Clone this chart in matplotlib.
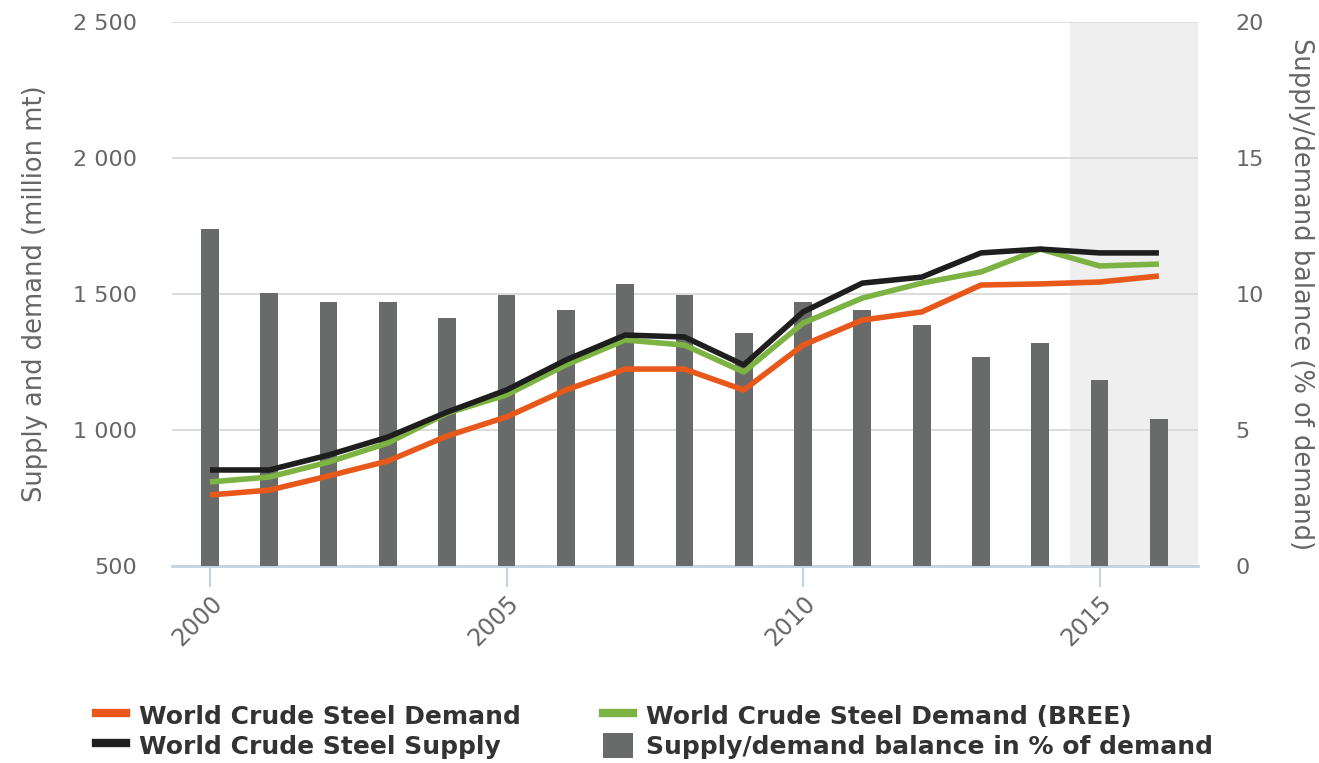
import numpy as np
import matplotlib
matplotlib.use("Agg")
import matplotlib.pyplot as plt
from matplotlib.lines import Line2D
from matplotlib.patches import Patch

# data
years = list(range(2000, 2017))
demand = [761, 779, 831, 886, 978, 1048, 1147, 1224, 1224, 1147,
          1312, 1404, 1434, 1533, 1537, 1544, 1566]
demand_bree = [809, 827, 882, 952, 1062, 1129, 1239, 1331, 1312, 1213,
               1393, 1485, 1540, 1581, 1665, 1603, 1610]
supply = [853, 853, 908, 974, 1066, 1147, 1257, 1349, 1342, 1239,
          1434, 1540, 1562, 1651, 1665, 1651, 1651]
balance_pct = [12.4, 10.05, 9.7, 9.7, 9.1, 9.95, 9.4, 10.35, 9.95, 8.55,
               9.7, 9.4, 8.85, 7.7, 8.2, 6.85, 5.4]
forecast_start = 2014.5

left_ticks = [500, 1000, 1500, 2000, 2500]
left_labels = ["500", "1 000", "1 500", "2 000", "2 500"]
right_ticks = [0, 5, 10, 15, 20]
x_ticks = [2000, 2005, 2010, 2015]

c_demand = "#e8581a"
c_bree = "#7cb342"
c_supply = "#1e1e1e"
c_bar = "#686b69"
c_text = "#666666"
c_axis = "#c4d3e3"

fig = plt.figure(figsize=(13.19, 7.63), dpi=100)
ax2 = fig.add_axes([0.1304, 0.2582, 0.7779, 0.713])
ax1 = ax2.twinx()
ax1.set_position(ax2.get_position())
ax1.set_zorder(2)
ax1.patch.set_visible(False)

xlim = (1999.36, 2016.66)

# bars + shaded forecast region on the right axis (drawn underneath)
ax2.axvspan(forecast_start, xlim[1], color="#efefef", zorder=0, lw=0)
ax2.bar(years, balance_pct, width=0.3, color=c_bar, zorder=3)
ax2.set_ylim(0, 20)
ax2.set_yticks(right_ticks)
ax2.grid(axis="y", color="#d9d9d9", lw=1.3, zorder=1)
ax2.set_axisbelow(True)
ax2.yaxis.tick_right()
ax2.yaxis.set_label_position("right")

# lines on the left axis
ax1.plot(years, demand, color=c_demand, lw=4, solid_capstyle="butt", solid_joinstyle="round")
ax1.plot(years, demand_bree, color=c_bree, lw=4, solid_capstyle="butt", solid_joinstyle="round")
ax1.plot(years, supply, color=c_supply, lw=4, solid_capstyle="butt", solid_joinstyle="round")
ax1.set_ylim(500, 2500)
ax1.yaxis.tick_left()
ax1.yaxis.set_label_position("left")
ax1.set_yticks(left_ticks)
ax1.set_yticklabels(left_labels)

for ax in (ax1, ax2):
    ax.set_xlim(*xlim)
    for s in ax.spines.values():
        s.set_visible(False)

ax2.spines["bottom"].set_visible(True)
ax2.spines["bottom"].set_color(c_axis)
ax2.spines["bottom"].set_linewidth(2)

ax2.set_xticks(x_ticks)
ax2.set_xticklabels([str(x) for x in x_ticks], rotation=45, ha="right", va="top",
                    rotation_mode="anchor", fontsize=17, color=c_text)
ax2.tick_params(axis="x", length=15, width=1.5, color=c_axis, pad=3)
ax1.tick_params(axis="x", bottom=False, labelbottom=False)
ax1.tick_params(axis="y", length=0, pad=25, labelsize=16, labelcolor=c_text)
ax2.tick_params(axis="y", length=0, pad=27, labelsize=16, labelcolor=c_text)
for lab in ax1.get_yticklabels():
    lab.set_horizontalalignment("right")

ax1.set_ylabel("Supply and demand (million mt)", fontsize=18.5, color=c_text, labelpad=18)
ax2.set_ylabel("Supply/demand balance (% of demand)", fontsize=18.5, color=c_text,
               rotation=270, labelpad=36)

handles = [
    Line2D([0], [0], color=c_demand, lw=6),
    Line2D([0], [0], color=c_supply, lw=6),
    Line2D([0], [0], color=c_bree, lw=6),
    Patch(facecolor=c_bar, edgecolor="none"),
]
labels = [
    "World Crude Steel Demand",
    "World Crude Steel Supply",
    "World Crude Steel Demand (BREE)",
    "Supply/demand balance in % of demand",
]
leg = fig.legend(handles, labels, ncol=2, loc="lower left",
                 bbox_to_anchor=(0.056, -0.024), frameon=False,
                 prop={"size": 18, "weight": "bold"}, handlelength=1.2,
                 handleheight=1.2, handletextpad=0.5, columnspacing=3.3,
                 labelspacing=0.15)
for t in leg.get_texts():
    t.set_color("#333333")

fig.savefig("out.png", dpi=100)
